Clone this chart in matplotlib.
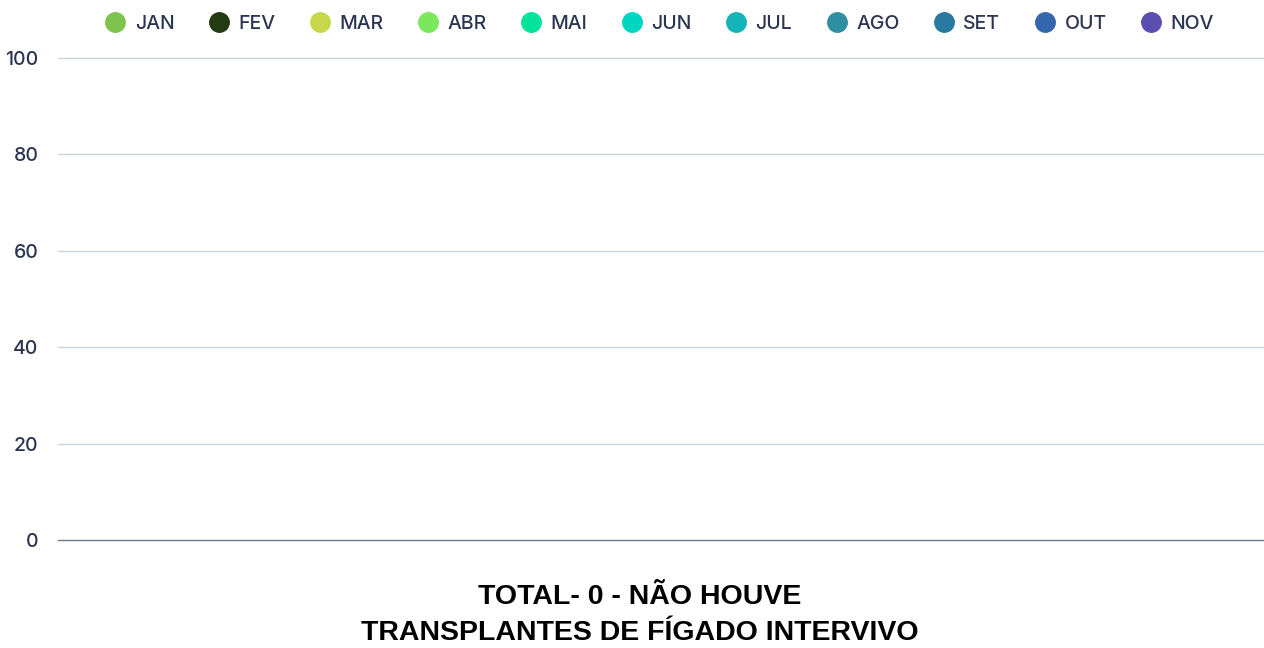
import matplotlib
matplotlib.use("Agg")
import matplotlib.pyplot as plt
from matplotlib.lines import Line2D
import numpy as np

# Monthly liver transplant counts (living donor) - none performed
months = ["JAN", "FEV", "MAR", "ABR", "MAI", "JUN", "JUL", "AGO", "SET", "OUT", "NOV"]
values = [0, 0, 0, 0, 0, 0, 0, 0, 0, 0, 0]
colors = ["#7ec34e", "#243a10", "#c6d74a", "#7ae85c", "#00e39a", "#00d6c2",
          "#14b4b8", "#2e8fa0", "#2979a0", "#3466ad", "#5a4fb0"]
yticks = [0, 20, 40, 60, 80, 100]
title = "TOTAL- 0 - NÃO HOUVE\nTRANSPLANTES DE FÍGADO INTERVIVO"

text_color = "#2b3450"
plt.rcParams["font.family"] = ["Inter", "DejaVu Sans"]

fig = plt.figure(figsize=(12.64, 6.48), dpi=100)
ax = fig.add_axes([58 / 1264, 1 - 540 / 648, 1206 / 1264, 482 / 648])

width = 0.9 / len(months)
x = np.arange(len(months)) * width - 0.45 + width / 2
ax.bar(x, values, width=width * 0.9, color=colors)

ax.set_xlim(-0.5, 0.5)
ax.set_ylim(0, 100)
ax.set_yticks(yticks)
ax.set_yticklabels([str(t) for t in yticks], fontsize=14, color=text_color, fontweight=500)
ax.set_xticks([])
ax.tick_params(axis="y", length=0, pad=14)
for s in ax.spines.values():
    s.set_visible(False)
for t in yticks[1:]:
    ax.axhline(t, color="#cfd3da", lw=1, zorder=0, clip_on=False)
ax.axhline(0, color="#6b7689", lw=1, zorder=3, clip_on=False)

handles = [Line2D([], [], ls="none", marker="o", markersize=14, color=c) for c in colors]
fig.legend(handles, months, loc="center", bbox_to_anchor=(0.522, 1 - 24 / 648), ncol=len(months),
           frameon=False, prop={"size": 14, "weight": 500}, handletextpad=0.5, columnspacing=1.79,
           labelcolor=text_color, handlelength=1.0)

fig.text(0.506, 1 - 615 / 648, title, ha="center", va="center", fontsize=20.5,
         fontweight="bold", family="Liberation Sans", color="#000000", linespacing=1.5)

fig.savefig("out.png", dpi=100)
